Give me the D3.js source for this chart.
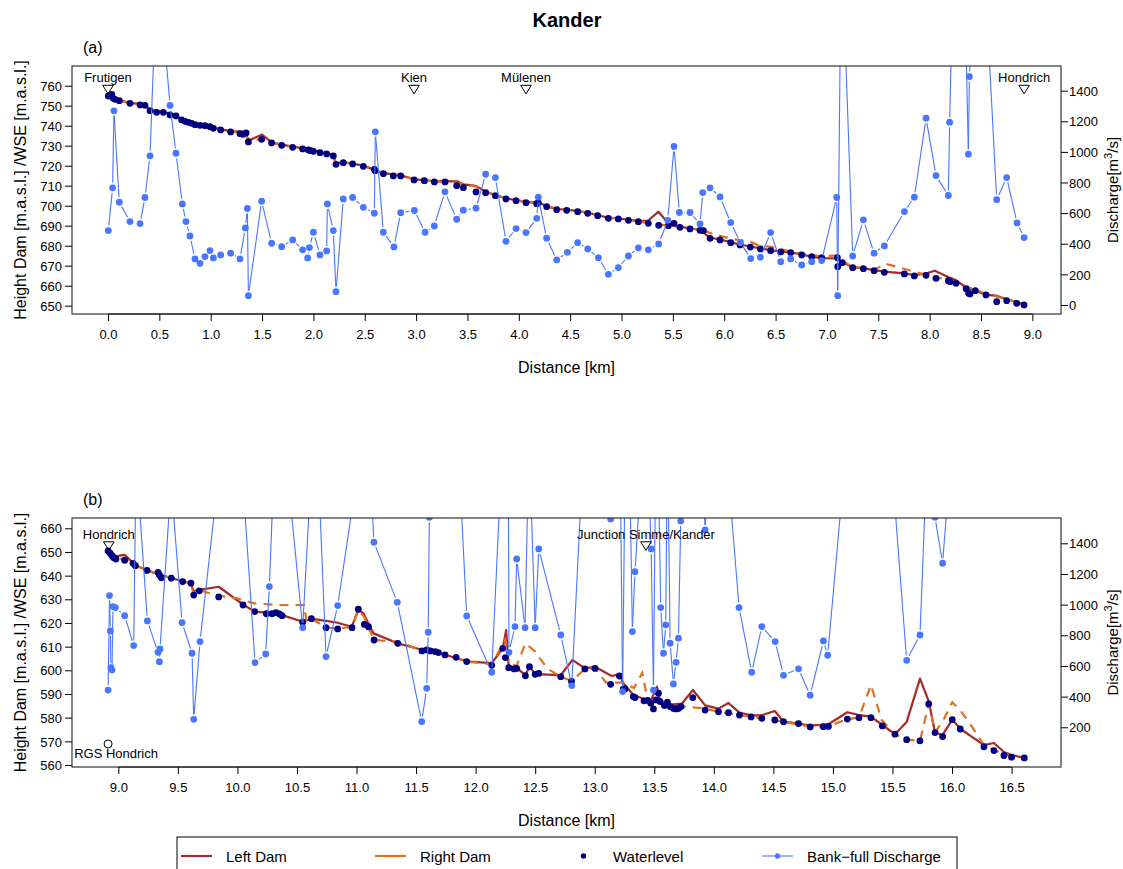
<!DOCTYPE html>
<html>
<head>
<meta charset="utf-8">
<script src="https://cdn.jsdelivr.net/npm/d3@7"></script>
<style>
  body { margin: 0; background: #fff; }
  svg { display: block; }
  text { font-family: "Liberation Sans", Arial, Helvetica, sans-serif; fill: #000; }
</style>
</head>
<body>
<svg id="chart" width="1123" height="869"></svg>
<script>
// ---------- Kander, Frutigen – Hondrich (panel a) ----------
// [distance km, water surface elevation m a.s.l.]
const waterlevelA = [
  [0.003,754.85],[0.036,755.7],[0.052,753.7],[0.068,753.2],[0.110,752.5],[0.214,751.2],[0.312,750.4],
  [0.360,750.2],[0.409,747.5],[0.474,746.7],[0.539,746.7],[0.604,745.4],[0.662,744.9],[0.717,742.9],
  [0.750,742.2],[0.782,741.7],[0.815,741.2],[0.847,740.5],[0.896,740.2],[0.944,740.0],[0.993,739.5],
  [1.026,738.7],[1.097,737.9],[1.194,736.9],[1.285,736.0],[1.311,735.7],[1.344,736.4],[1.367,731.9],
  [1.496,733.2],[1.593,731.4],[1.691,730.2],[1.798,729.2],[1.895,728.4],[1.951,727.9],[1.974,727.5],
  [2.000,727.2],[2.064,726.5],[2.129,725.9],[2.194,724.9],[2.220,720.7],[2.291,721.5],[2.382,720.9],
  [2.486,719.7],[2.593,718.2],[2.600,717.5],[2.681,716.0],[2.778,714.9],[2.850,714.9],[2.980,712.9],
  [3.080,712.5],[3.178,711.9],[3.281,711.9],[3.395,710.0],[3.460,709.0],[3.583,706.9],[3.677,706.5],
  [3.772,705.0],[3.875,703.4],[3.973,702.5],[4.070,701.5],[4.174,701.0],[4.190,701.4],[4.271,699.5],
  [4.369,698.0],[4.466,697.7],[4.573,697.0],[4.671,696.2],[4.768,695.0],[4.872,693.7],[4.969,693.4],
  [5.067,692.7],[5.164,692.0],[5.261,691.2],[5.362,690.2],[5.456,690.0],[5.511,691.2],[5.569,689.2],
  [5.667,688.4],[5.764,687.7],[5.797,687.5],[5.862,683.7],[5.959,682.9],[6.063,681.5],[6.154,680.4],
  [6.254,679.3],[6.352,678.4],[6.452,677.5],[6.550,676.9],[6.647,676.5],[6.754,675.4],[6.852,674.5],
  [6.949,674.0],[7.102,674.0],[7.105,669.5],[7.150,671.5],[7.251,669.0],[7.355,668.5],[7.459,667.5],
  [7.559,666.7],[7.754,665.9],[7.851,664.9],[7.965,665.2],[8.062,663.7],[8.182,662.5],[8.199,662.0],
  [8.257,661.2],[8.355,658.5],[8.380,656.2],[8.393,655.9],[8.445,657.5],[8.549,655.4],[8.653,652.0],
  [8.750,652.5],[8.848,651.2],[8.919,650.4]
];
// [distance km, crest height of the left dam m a.s.l.]
const leftDamA = [
  [0.00,755.8],[0.05,754.6],[0.11,752.8],[0.21,751.4],[0.36,750.5],[0.41,747.9],[0.54,746.9],[0.66,745.2],
  [0.72,743.2],[0.85,740.8],[0.99,739.8],[1.10,738.2],[1.19,737.3],[1.29,736.9],[1.31,737.0],[1.38,732.8],
  [1.50,735.6],[1.59,731.8],[1.69,730.5],[1.80,729.5],[1.90,728.7],[2.00,727.5],[2.13,726.2],[2.19,725.3],
  [2.22,721.2],[2.29,721.8],[2.49,720.0],[2.60,717.8],[2.68,716.3],[2.85,715.2],[2.98,713.2],[3.08,712.8],
  [3.18,712.2],[3.28,712.3],[3.40,712.2],[3.46,710.7],[3.58,709.9],[3.68,707.0],[3.77,705.3],[3.88,703.7],
  [3.97,702.8],[4.07,701.8],[4.19,701.6],[4.27,699.8],[4.37,698.3],[4.47,698.0],[4.57,697.3],[4.67,696.5],
  [4.77,695.3],[4.87,694.0],[4.97,693.6],[5.07,693.0],[5.16,692.3],[5.26,692.6],[5.36,697.0],[5.46,691.0],
  [5.57,689.5],[5.67,688.6],[5.76,688.0],[5.86,684.0],[5.96,683.1],[6.06,681.8],[6.15,680.6],[6.25,679.6],
  [6.35,678.7],[6.45,677.8],[6.55,677.1],[6.65,676.7],[6.75,675.6],[6.85,674.5],[6.95,673.8],[7.10,673.7],
  [7.15,671.7],[7.25,669.2],[7.36,668.7],[7.46,667.8],[7.56,667.0],[7.75,666.2],[7.85,665.3],[7.97,666.2],
  [8.05,667.5],[8.18,664.4],[8.25,663.0],[8.36,658.8],[8.44,657.6],[8.55,655.4],[8.65,655.0],[8.75,653.2],
  [8.85,651.8],[8.92,650.5]
];
// [distance km, crest height of the right dam m a.s.l.]
const rightDamA = [
  [0.00,755.6],[0.05,754.4],[0.11,752.7],[0.21,751.3],[0.36,750.4],[0.41,747.8],[0.54,746.8],[0.66,745.1],
  [0.72,743.1],[0.85,740.7],[0.99,739.7],[1.10,738.1],[1.19,737.1],[1.29,736.4],[1.31,736.6],[1.38,732.5],
  [1.50,733.5],[1.59,731.6],[1.69,730.4],[1.80,729.4],[1.90,728.6],[2.00,727.4],[2.13,726.1],[2.19,725.2],
  [2.22,721.0],[2.29,721.7],[2.49,719.9],[2.60,717.7],[2.68,716.2],[2.85,715.1],[2.98,713.1],[3.08,712.7],
  [3.18,712.1],[3.28,712.1],[3.40,711.6],[3.46,710.5],[3.58,709.6],[3.68,706.9],[3.77,705.2],[3.88,703.8],
  [3.97,702.9],[4.07,701.8],[4.19,701.5],[4.27,699.9],[4.37,698.5],[4.47,698.1],[4.57,697.4],[4.67,696.5],
  [4.77,695.3],[4.87,694.0],[4.97,693.6],[5.07,692.9],[5.16,692.2],[5.26,691.4],[5.36,690.5],[5.46,690.2],
  [5.57,689.4],[5.67,688.6],[5.80,687.6],[5.89,685.9],[6.05,683.7],[6.15,682.8],[6.25,682.0],[6.35,679.9],
  [6.45,679.5],[6.55,678.2],[6.75,676.0],[6.95,674.7],[7.10,675.2],[7.13,672.9],[7.25,669.5],[7.36,668.8],
  [7.46,667.9],[7.57,670.9],[7.68,669.5],[7.85,667.0],[8.04,664.2],[8.18,663.2],[8.36,659.5],[8.55,656.0],
  [8.75,653.2],[8.92,650.9]
];
// [distance km, bank-full discharge m3/s]
const dischargeA = [
  [0.003,486],[0.045,765],[0.058,1268],[0.110,671],[0.214,545],[0.312,532],[0.360,702],[0.409,974],
  [0.481,2280],[0.604,1303],[0.662,991],[0.724,660],[0.759,545],[0.798,451],[0.847,301],[0.896,272],
  [0.944,316],[0.993,355],[1.026,307],[1.097,327],[1.194,338],[1.285,301],[1.337,503],[1.357,630],
  [1.367,61],[1.496,678],[1.593,403],[1.691,381],[1.798,425],[1.895,360],[1.944,307],[1.961,375],
  [2.000,475],[2.064,327],[2.129,353],[2.136,660],[2.194,486],[2.220,87],[2.291,693],[2.382,702],
  [2.486,638],[2.593,599],[2.603,1131],[2.681,475],[2.784,379],[2.850,603],[2.983,617],[3.087,475],
  [3.177,516],[3.281,739],[3.395,560],[3.460,619],[3.583,632],[3.677,854],[3.772,832],[3.875,416],
  [3.973,499],[4.070,473],[4.174,566],[4.190,704],[4.271,436],[4.369,294],[4.473,344],[4.573,407],
  [4.671,366],[4.775,309],[4.872,200],[4.969,244],[5.067,320],[5.164,373],[5.261,360],[5.362,399],
  [5.450,553],[5.511,1035],[5.563,604],[5.667,604],[5.764,529],[5.791,734],[5.862,765],[5.959,706],
  [6.063,538],[6.158,407],[6.258,303],[6.352,312],[6.452,473],[6.550,283],[6.647,301],[6.754,261],
  [6.852,283],[6.949,290],[7.095,702],[7.105,61],[7.140,2430],[7.251,320],[7.355,556],[7.459,338],
  [7.559,386],[7.754,610],[7.851,704],[7.965,1220],[8.062,845],[8.182,715],[8.195,1194],[8.286,3850],
  [8.377,985],[8.387,1492],[8.490,2780],[8.653,688],[8.750,832],[8.851,536],[8.920,440]
];
// gauging stations shown above the profile
const stationsA = [
  { name: "Frutigen", km: 0.00 }, { name: "Kien", km: 2.98 },
  { name: "Mülenen", km: 4.07 }, { name: "Hondrich", km: 8.92 }
];
const stationLevelA = 758.2;

// ---------- Kander, Hondrich – Simme junction – lake (panel b) ----------
const waterlevelB = [
  [8.914,650.4],[8.933,649.4],[8.947,648.4],[8.961,647.6],[8.980,647.0],[9.053,646.5],[9.123,645.2],
  [9.143,644.2],[9.241,642.2],[9.333,641.4],[9.345,640.3],[9.361,639.1],[9.445,638.9],[9.540,637.5],
  [9.610,636.8],[9.633,631.8],[9.680,633.6],[9.843,631.0],[10.047,627.6],[10.145,624.8],[10.243,623.9],
  [10.291,623.9],[10.324,624.4],[10.352,623.8],[10.375,623.1],[10.548,620.3],[10.621,621.8],[10.744,618.0],
  [10.842,617.5],[10.962,618.0],[11.015,625.8],[11.066,619.4],[11.100,618.4],[11.147,612.8],[11.346,611.4],
  [11.550,608.2],[11.590,608.6],[11.620,608.2],[11.660,607.9],[11.687,607.5],[11.743,606.5],[11.836,605.5],
  [11.925,603.7],[12.135,602.1],[12.228,609.3],[12.250,605.4],[12.278,601.1],[12.323,600.6],[12.345,600.8],
  [12.418,597.7],[12.452,601.5],[12.500,598.3],[12.530,598.7],[12.715,597.3],[12.805,595.3],[12.918,600.6],
  [13.002,600.8],[13.134,594.1],[13.207,597.6],[13.240,592.0],[13.254,592.1],[13.324,588.9],[13.338,588.5],
  [13.414,587.1],[13.445,587.3],[13.470,586.1],[13.493,583.7],[13.515,587.5],[13.535,590.3],[13.549,586.8],
  [13.585,585.1],[13.610,586.5],[13.633,584.7],[13.661,583.9],[13.683,583.7],[13.703,583.9],[13.725,584.7],
  [13.823,588.5],[13.927,583.2],[14.039,582.5],[14.123,582.1],[14.215,581.1],[14.313,580.3],[14.403,579.7],
  [14.512,579.0],[14.585,578.3],[14.711,577.5],[14.809,576.1],[14.920,576.2],[14.962,576.3],[15.121,579.4],
  [15.219,580.0],[15.319,580.0],[15.415,576.5],[15.521,573.0],[15.619,570.7],[15.731,570.2],[15.804,585.8],
  [15.857,573.7],[15.921,572.0],[16.002,579.2],[16.069,575.2],[16.268,567.7],[16.352,566.1],[16.436,564.0],
  [16.500,563.3],[16.607,563.0]
];
const leftDamB = [
  [8.914,651.5],[8.960,648.0],[9.053,648.8],[9.143,644.5],[9.241,642.3],[9.345,640.5],[9.445,639.0],
  [9.540,637.6],[9.610,636.9],[9.630,633.5],[9.680,634.0],[9.843,635.3],[10.047,627.8],[10.145,624.8],
  [10.291,624.2],[10.375,623.3],[10.548,620.5],[10.621,621.8],[10.700,621.2],[10.833,620.2],[10.960,618.4],
  [11.015,625.5],[11.057,624.1],[11.143,615.6],[11.346,611.4],[11.550,608.7],[11.743,606.6],[11.925,603.8],
  [12.135,603.0],[12.228,609.3],[12.256,617.0],[12.267,609.3],[12.278,601.5],[12.345,601.0],[12.418,598.0],
  [12.452,601.5],[12.500,598.5],[12.715,597.9],[12.812,604.4],[12.918,600.8],[13.002,601.5],[13.142,597.6],
  [13.207,598.4],[13.240,594.6],[13.324,589.6],[13.414,587.9],[13.470,587.0],[13.522,593.1],[13.550,587.0],
  [13.633,585.5],[13.731,585.9],[13.825,591.7],[13.927,585.2],[14.039,583.8],[14.123,586.2],[14.215,582.1],
  [14.313,581.0],[14.403,581.0],[14.512,582.8],[14.585,578.3],[14.711,577.5],[14.809,576.6],[14.962,577.2],
  [15.121,582.3],[15.219,581.1],[15.319,580.4],[15.415,576.9],[15.521,573.0],[15.619,578.2],[15.731,596.5],
  [15.804,587.0],[15.857,573.7],[15.921,572.7],[16.002,579.2],[16.069,575.3],[16.268,568.4],[16.352,569.3],
  [16.436,565.5],[16.500,564.2],[16.607,563.0]
];
const rightDamB = [
  [8.914,651.0],[8.960,647.8],[9.053,646.8],[9.143,644.3],[9.241,642.2],[9.345,640.4],[9.445,638.9],
  [9.540,637.5],[9.610,636.8],[9.633,632.0],[9.680,633.8],[9.843,631.5],[10.000,630.4],[10.140,628.3],
  [10.340,627.6],[10.560,627.6],[10.580,620.6],[10.621,621.8],[10.744,618.2],[10.842,617.5],[10.962,618.4],
  [11.015,625.3],[11.066,622.5],[11.147,612.8],[11.350,612.0],[11.550,608.4],[11.743,606.5],[11.925,603.7],
  [12.135,602.5],[12.250,613.0],[12.278,602.5],[12.345,602.0],[12.418,611.4],[12.500,607.9],[12.600,600.8],
  [12.715,597.3],[12.807,595.5],[12.918,600.6],[13.002,600.8],[13.096,594.8],[13.240,594.8],[13.330,592.5],
  [13.400,599.0],[13.430,591.0],[13.470,586.5],[13.550,587.0],[13.633,584.8],[13.725,584.8],[13.910,584.0],
  [14.039,582.5],[14.215,581.1],[14.403,579.8],[14.585,578.3],[14.809,576.2],[14.962,576.4],[15.121,579.4],
  [15.219,580.0],[15.319,593.8],[15.410,579.0],[15.521,573.0],[15.619,570.7],[15.731,570.2],[15.804,585.8],
  [15.860,574.0],[15.921,578.3],[16.002,586.5],[16.069,583.1],[16.170,576.0],[16.268,568.4],[16.436,564.5],
  [16.607,563.0]
];
const dischargeB = [
  [8.914,443],[8.926,1059],[8.933,828],[8.938,589],[8.947,574],[8.955,987],[8.975,981],[9.053,928],
  [9.129,733],[9.149,1953],[9.244,894],[9.333,689],[9.345,628],[9.350,711],[9.443,1794],[9.535,883],
  [9.619,683],[9.633,252],[9.686,759],[9.966,2719],[10.148,622],[10.237,678],[10.268,1118],[10.338,2510],
  [10.548,850],[10.654,2355],[10.744,661],[10.842,994],[11.090,2287],[11.146,1407],[11.342,1015],[11.547,237],
  [11.589,454],[11.602,820],[11.611,1570],[11.760,3500],[11.925,926],[12.135,559],[12.270,2800],[12.280,689],
  [12.330,857],[12.345,1298],[12.415,850],[12.448,2094],[12.500,850],[12.530,1363],[12.715,802],[12.807,472],
  [12.960,2880],[13.134,1559],[13.200,3000],[13.234,433],[13.270,3000],[13.316,824],[13.338,1215],[13.427,2331],
  [13.474,1363],[13.493,443],[13.519,2600],[13.554,981],[13.577,683],[13.596,868],[13.611,2127],[13.633,748],
  [13.661,483],[13.683,624],[13.703,781],[13.722,1546],[13.850,3200],[13.927,1487],[14.000,3000],[14.212,981],
  [14.318,559],[14.403,857],[14.515,759],[14.585,539],[14.711,581],[14.809,409],[14.920,763],[14.956,670],
  [15.312,3761],[15.619,637],[15.731,802],[15.800,2175],[15.857,1570],[15.921,1270],[16.070,2780]
];
const stationsB = [
  { name: "Hondrich", km: 8.92 }, { name: "Junction Simme/Kander", km: 13.43 }
];
const stationLevelB = 652.6;
const gaugeB = { name: "RGS Hondrich", km: 8.914, elev: 568.9 };

// axis ticks
const xTicksA = d3.range(0, 9.01, 0.5);
const xTicksB = d3.range(9, 16.51, 0.5);
const yTicksA = d3.range(650, 760.1, 10);
const yTicksB = d3.range(560, 660.1, 10);
const qTicksA = [0, 200, 400, 600, 800, 1000, 1200, 1400];
const qTicksB = [200, 400, 600, 800, 1000, 1200, 1400];

// legend entries
const legendItems = ["Left Dam", "Right Dam", "Waterlevel", "Bank\u2212full Discharge"];

// ---------- styling ----------
const COL = { left: "#A52A2A", right: "#E07020", wl: "#000080", q: "#4876FF" };
const FONT_TICK = 13, FONT_LAB = 16;

const svg = d3.select("#chart");

svg.append("text").attr("x", 567).attr("y", 27).attr("text-anchor", "middle")
  .style("font-size", "20px").style("font-weight", "bold").text("Kander");

const panels = [
  { tag: "(a)", box: { x0: 72, x1: 1061, y0: 66, y1: 314 },
    xDom: [-0.3505, 9.279], yDom: [645.85, 769.85], qDom: [-59, 1561],
    xTicks: xTicksA, yTicks: yTicksA, qTicks: qTicksA,
    wl: waterlevelA, left: leftDamA, right: rightDamA, q: dischargeA,
    stations: stationsA, stationLevel: stationLevelA, gauge: null },
  { tag: "(b)", box: { x0: 72, x1: 1061, y0: 518, y1: 767 },
    xDom: [8.611, 16.915], yDom: [559.15, 664.35], qDom: [-59, 1565],
    xTicks: xTicksB, yTicks: yTicksB, qTicks: qTicksB,
    wl: waterlevelB, left: leftDamB, right: rightDamB, q: dischargeB,
    stations: stationsB, stationLevel: stationLevelB, gauge: gaugeB }
];

// lines between successive points that stop short of each symbol
function gappedSegments(g, pts, gap, color, width) {
  for (let i = 0; i < pts.length - 1; i++) {
    const [x1, y1] = pts[i], [x2, y2] = pts[i + 1];
    const dx = x2 - x1, dy = y2 - y1, len = Math.hypot(dx, dy);
    if (len <= 2 * gap) continue;
    const ux = dx / len, uy = dy / len;
    g.append("line")
      .attr("x1", x1 + ux * gap).attr("y1", y1 + uy * gap)
      .attr("x2", x2 - ux * gap).attr("y2", y2 - uy * gap)
      .attr("stroke", color).attr("stroke-width", width);
  }
}

panels.forEach((p, idx) => {
  const b = p.box;
  const x = d3.scaleLinear().domain(p.xDom).range([b.x0, b.x1]);
  const y = d3.scaleLinear().domain(p.yDom).range([b.y1, b.y0]);
  const yq = d3.scaleLinear().domain(p.qDom).range([b.y1, b.y0]);
  const g = svg.append("g");

  const clipId = "clip" + idx;
  svg.append("clipPath").attr("id", clipId).append("rect")
    .attr("x", b.x0).attr("y", b.y0).attr("width", b.x1 - b.x0).attr("height", b.y1 - b.y0);
  const plot = g.append("g").attr("clip-path", `url(#${clipId})`);

  // dams
  const line = d3.line().x(d => x(d[0])).y(d => y(d[1]));
  plot.append("path").datum(p.left).attr("d", line)
    .attr("fill", "none").attr("stroke", COL.left).attr("stroke-width", 2.2).attr("stroke-linejoin", "round");
  plot.append("path").datum(p.right).attr("d", line)
    .attr("fill", "none").attr("stroke", COL.right).attr("stroke-width", 2.2)
    .attr("stroke-dasharray", "9,7");

  // water surface points
  plot.selectAll(null).data(p.wl).enter().append("circle")
    .attr("cx", d => x(d[0])).attr("cy", d => y(d[1])).attr("r", 3.4).attr("fill", COL.wl);

  // bank-full discharge on the secondary axis
  const qPts = p.q.map(d => [x(d[0]), yq(d[1])]);
  gappedSegments(plot, qPts, 5, COL.q, 1.1);
  plot.selectAll(null).data(qPts).enter().append("circle")
    .attr("cx", d => d[0]).attr("cy", d => d[1]).attr("r", 3.4).attr("fill", COL.q);

  // station markers
  const st = g.append("g");
  p.stations.forEach(s => {
    const cx = x(s.km), cy = y(p.stationLevel);
    st.append("path").attr("d", `M${cx - 5.3},${cy - 4}L${cx + 5.3},${cy - 4}L${cx},${cy + 4.5}Z`)
      .attr("fill", "none").attr("stroke", "#000").attr("stroke-width", 1);
    st.append("text").attr("x", cx).attr("y", cy - 7).attr("text-anchor", "middle")
      .style("font-size", FONT_TICK + "px").text(s.name);
  });
  if (p.gauge) {
    const cx = x(p.gauge.km), cy = y(p.gauge.elev);
    st.append("circle").attr("cx", cx).attr("cy", cy).attr("r", 4)
      .attr("fill", "none").attr("stroke", "#000").attr("stroke-width", 1);
    st.append("text").attr("x", cx + 8).attr("y", cy + 14).attr("text-anchor", "middle")
      .style("font-size", FONT_TICK + "px").text(p.gauge.name);
  }

  // axes
  const fmtX = d3.format(".1f");
  const ax = g.append("g").attr("transform", `translate(0,${b.y1})`)
    .call(d3.axisBottom(x).tickValues(p.xTicks).tickFormat(fmtX).tickSize(7).tickPadding(9));
  const ay = g.append("g").attr("transform", `translate(${b.x0},0)`)
    .call(d3.axisLeft(y).tickValues(p.yTicks).tickFormat(d3.format("d")).tickSize(7).tickPadding(3));
  const aq = g.append("g").attr("transform", `translate(${b.x1},0)`)
    .call(d3.axisRight(yq).tickValues(p.qTicks).tickFormat(d3.format("d")).tickSize(7).tickPadding(1));
  [ax, ay, aq].forEach(a => {
    a.select(".domain").remove();
    a.selectAll(".tick line").attr("stroke", "#000");
    a.selectAll(".tick text").style("font-size", FONT_TICK + "px")
      .style("font-family", '"Liberation Sans", Arial, Helvetica, sans-serif').attr("fill", "#000");
  });
  ay.selectAll(".tick text").attr("dy", "0.36em");
  aq.selectAll(".tick text").attr("dy", "0.36em");
  // axis lines spanning first to last tick
  g.append("line").attr("x1", x(p.xTicks[0])).attr("x2", x(p.xTicks[p.xTicks.length - 1]))
    .attr("y1", b.y1).attr("y2", b.y1).attr("stroke", "#000");

  // frame
  g.append("rect").attr("x", b.x0).attr("y", b.y0).attr("width", b.x1 - b.x0).attr("height", b.y1 - b.y0)
    .attr("fill", "none").attr("stroke", "#222").attr("stroke-width", 1.1);

  // titles
  g.append("text").attr("x", 83).attr("y", b.y0 - 13).style("font-size", FONT_LAB + "px").text(p.tag);
  g.append("text").attr("x", (b.x0 + b.x1) / 2).attr("y", b.y1 + 59).attr("text-anchor", "middle")
    .style("font-size", FONT_LAB + "px").text("Distance [km]");
  const cy = (b.y0 + b.y1) / 2;
  g.append("text").attr("transform", `translate(26,${cy}) rotate(-90)`).attr("text-anchor", "middle")
    .style("font-size", FONT_LAB + "px").text("Height Dam [m.a.s.l.] /WSE [m.a.s.l.]");
  const rt = g.append("text").attr("transform", `translate(1118,${cy}) rotate(-90)`).attr("text-anchor", "middle")
    .style("font-size", "15px");
  rt.append("tspan").text("Discharge[m");
  rt.append("tspan").attr("dy", -6).style("font-size", "11px").text("3");
  rt.append("tspan").attr("dy", 6).text("/s]");
});

// legend
const lg = svg.append("g");
lg.append("rect").attr("x", 177).attr("y", 837).attr("width", 780).attr("height", 40)
  .attr("fill", "#fff").attr("stroke", "#000").attr("stroke-width", 1);
const ly = 856;
const legendX = [181, 375, 568, 762];
legendItems.forEach((name, i) => {
  const x0 = legendX[i];
  if (i === 0) lg.append("line").attr("x1", x0).attr("x2", x0 + 31).attr("y1", ly).attr("y2", ly)
    .attr("stroke", COL.left).attr("stroke-width", 2.2);
  if (i === 1) lg.append("line").attr("x1", x0).attr("x2", x0 + 31).attr("y1", ly).attr("y2", ly)
    .attr("stroke", COL.right).attr("stroke-width", 2.2);
  if (i === 2) lg.append("circle").attr("cx", x0 + 15.5).attr("cy", ly).attr("r", 2.7).attr("fill", COL.wl);
  if (i === 3) {
    lg.append("line").attr("x1", x0).attr("x2", x0 + 31).attr("y1", ly).attr("y2", ly)
      .attr("stroke", COL.q).attr("stroke-width", 1.1);
    lg.append("circle").attr("cx", x0 + 15.5).attr("cy", ly).attr("r", 2.7).attr("fill", COL.q);
  }
  lg.append("text").attr("x", x0 + 45).attr("y", ly + 5.5).style("font-size", "15px").text(name);
});
</script>
</body>
</html>
